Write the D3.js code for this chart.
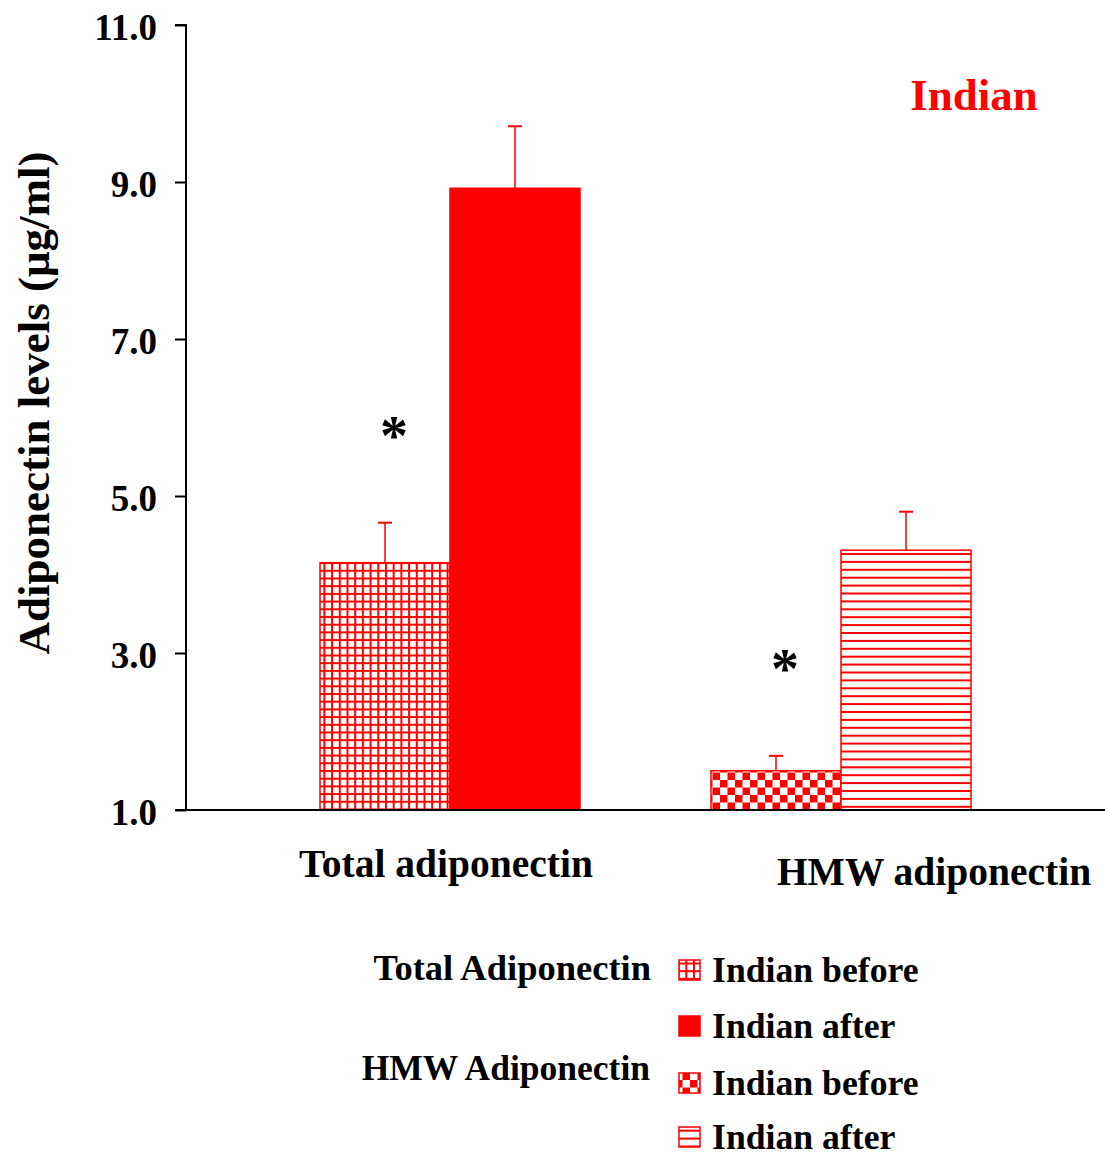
<!DOCTYPE html>
<html><head><meta charset="utf-8">
<script src="https://cdn.jsdelivr.net/npm/d3@7"></script>
<style>body{margin:0;background:#fff}svg{display:block}</style>
</head><body>
<script>
const groups = ["Total adiponectin", "HMW adiponectin"];
const series = ["before", "after"];
const means = [[4.15, 8.92], [1.50, 4.31]];
const errs = [[0.51, 0.79], [0.19, 0.49]];
const patterns = [["grid", "solid"], ["check", "hlines"]];
const yTicks = [1, 3, 5, 7, 9, 11];
const legendGroups = ["Total Adiponectin", "HMW Adiponectin"];
const legendLabels = ["Indian before", "Indian after", "Indian before", "Indian after"];
const legendPatterns = ["grid", "solid", "check", "hlines"];
const sigMarks = [[0, 0], [1, 0]];

const W = 1105, H = 1156, RED = "#ff0000";
const svg = d3.select("body").append("svg").attr("width", W).attr("height", H);
const defs = svg.append("defs");

const pg = defs.append("pattern").attr("id", "grid").attr("patternUnits", "userSpaceOnUse")
  .attr("width", 7.7).attr("height", 7.7);
pg.append("rect").attr("width", 7.7).attr("height", 7.7).attr("fill", "#fff");
pg.append("rect").attr("x", 0).attr("y", 0).attr("width", 2).attr("height", 7.7).attr("fill", RED);
pg.append("rect").attr("x", 0).attr("y", 0).attr("width", 7.7).attr("height", 2).attr("fill", RED);

const pc = defs.append("pattern").attr("id", "check").attr("patternUnits", "userSpaceOnUse")
  .attr("width", 15).attr("height", 15);
pc.append("rect").attr("width", 15).attr("height", 15).attr("fill", "#fff");
pc.append("rect").attr("x", 0).attr("y", 0).attr("width", 7.5).attr("height", 7.5).attr("fill", RED);
pc.append("rect").attr("x", 7.5).attr("y", 7.5).attr("width", 7.5).attr("height", 7.5).attr("fill", RED);

const ph = defs.append("pattern").attr("id", "hlines").attr("patternUnits", "userSpaceOnUse")
  .attr("width", 8).attr("height", 7.9);
ph.append("rect").attr("width", 8).attr("height", 7.9).attr("fill", "#fff");
ph.append("rect").attr("x", 0).attr("y", 0).attr("width", 8).attr("height", 2).attr("fill", RED);

const fillOf = p => p === "solid" ? RED : `url(#${p})`;

const y = d3.scaleLinear().domain([1, 11]).range([810, 25]);
const x = d3.scaleBand().domain(series).range([0, 260]);
const groupStart = { "Total adiponectin": 320, "HMW adiponectin": 711 };

const font = "'Liberation Serif', 'Times New Roman', serif";

groups.forEach((g, gi) => {
  series.forEach((s, si) => {
    const bx = groupStart[g] + x(s);
    const bw = x.bandwidth();
    svg.append("rect").attr("x", bx).attr("y", y(means[gi][si]))
      .attr("width", bw).attr("height", y(1) - y(means[gi][si]))
      .attr("fill", fillOf(patterns[gi][si]))
      .attr("stroke", RED).attr("stroke-width", 1.5);
    const cx = bx + bw / 2;
    const top = y(means[gi][si] + errs[gi][si]);
    svg.append("line").attr("x1", cx).attr("x2", cx).attr("y1", y(means[gi][si])).attr("y2", top)
      .attr("stroke", RED).attr("stroke-width", 1.5);
    svg.append("line").attr("x1", cx - 7).attr("x2", cx + 7).attr("y1", top).attr("y2", top)
      .attr("stroke", RED).attr("stroke-width", 2);
  });
});

sigMarks.forEach(([gi, si]) => {
  const g = groups[gi];
  const cx = groupStart[g] + x(series[si]) + x.bandwidth() / 2 + 9;
  const top = y(means[gi][si] + errs[gi][si]);
  svg.append("text").attr("x", cx).attr("y", top - 68)
    .attr("text-anchor", "middle").attr("font-family", font).attr("font-weight", "bold")
    .attr("font-size", 56).attr("fill", "#000").text("*");
});

const yAxis = d3.axisLeft(y).tickValues(yTicks).tickFormat(d3.format(".1f")).tickSize(11).tickPadding(18);
const ya = svg.append("g").attr("transform", "translate(186,0)").call(yAxis);
ya.select(".domain").attr("stroke", "#000").attr("stroke-width", 2).attr("d", "M-11,25H0V810H-11");
ya.selectAll(".tick line").attr("stroke", "#000").attr("stroke-width", 2);
ya.selectAll(".tick text").attr("font-family", font).attr("font-weight", "bold")
  .attr("font-size", 37).attr("fill", "#000").attr("dy", "0.4em");

svg.append("line").attr("x1", 175).attr("x2", 1105).attr("y1", 810).attr("y2", 810)
  .attr("stroke", "#000").attr("stroke-width", 2);

const xLabPos = [[446, 877], [934, 885]];
groups.forEach((g, i) => {
  svg.append("text").attr("x", xLabPos[i][0]).attr("y", xLabPos[i][1]).attr("text-anchor", "middle")
    .attr("font-family", font).attr("font-weight", "bold").attr("font-size", 39.5).text(g);
});

svg.append("text").attr("transform", "translate(49,403) rotate(-90)").attr("text-anchor", "middle")
  .attr("font-family", font).attr("font-weight", "bold").attr("font-size", 45).text("Adiponectin levels (μg/ml)");

svg.append("text").attr("x", 974).attr("y", 110).attr("text-anchor", "middle")
  .attr("font-family", font).attr("font-weight", "bold").attr("font-size", 45).attr("fill", RED).text("Indian");

svg.append("text").attr("x", 651).attr("y", 980).attr("text-anchor", "end")
  .attr("font-family", font).attr("font-weight", "bold").attr("font-size", 36.5).text(legendGroups[0]);
svg.append("text").attr("x", 650).attr("y", 1080).attr("text-anchor", "end")
  .attr("font-family", font).attr("font-weight", "bold").attr("font-size", 35.5).text(legendGroups[1]);
const legY = [970, 1026, 1083, 1137];
legendLabels.forEach((l, i) => {
  svg.append("rect").attr("x", 679).attr("y", legY[i] - 10).attr("width", 21).attr("height", 20)
    .attr("fill", fillOf(legendPatterns[i])).attr("stroke", RED).attr("stroke-width", 1.5);
  svg.append("text").attr("x", 712).attr("y", legY[i] + 12)
    .attr("font-family", font).attr("font-weight", "bold").attr("font-size", 35.7).text(l);
});
</script>
</body></html>
